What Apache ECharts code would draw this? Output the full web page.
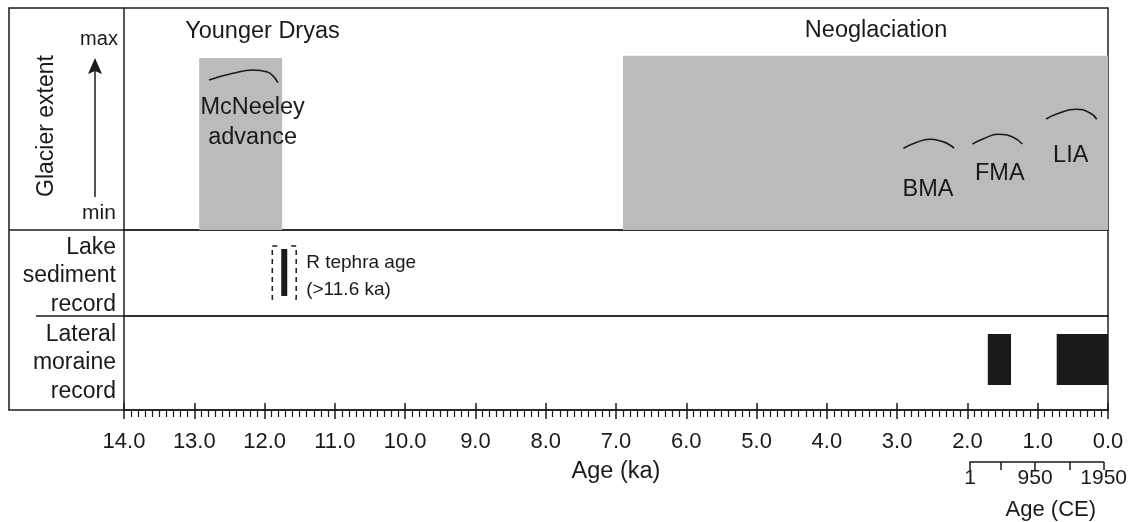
<!DOCTYPE html>
<html><head><meta charset="utf-8">
<script src="https://cdn.jsdelivr.net/npm/echarts@6/dist/echarts.min.js"></script>
<style>html,body{margin:0;padding:0;background:#fff}#c{width:1130px;height:522px}</style>
</head><body><div id="c"></div>
<script>
// ---- data (ka = thousand years before 1950 CE) ----
const periodNames = ['Younger Dryas', 'Neoglaciation'];
const periodStart = [12.93, 6.9];
const periodEnd = [11.75, 0.0];
const periodExtent = [77.5, 78.5];
const periodLabelPos = [[12.03, 89.6], [3.30, 89.8]];

const mcneeleyCurve = [[12.79, 67.6], [12.45, 70.6], [12.16, 72.1], [11.97, 71.3], [11.88, 69.4], [11.81, 66.4]];
const bmaCurve = [[2.91, 36.8], [2.72, 39.5], [2.54, 40.9], [2.35, 39.8], [2.25, 38.3], [2.19, 36.8]];
const fmaCurve = [[1.93, 38.7], [1.78, 41.0], [1.56, 43.1], [1.35, 41.8], [1.22, 38.7]];
const liaCurve = [[0.88, 50.0], [0.73, 52.3], [0.45, 54.4], [0.26, 52.8], [0.16, 49.9]];
const advanceNames = ['McNeeley\nadvance', 'BMA', 'FMA', 'LIA'];
const advanceLabelPos = [[12.17, 48.6], [2.56, 18.3], [1.54, 25.5], [0.53, 33.5]];

const tephraAge = 11.72;
const tephraBounds = [11.89, 11.55];
const tephraLabel = ['R tephra age', '(>11.6 ka)'];

const moraineStart = [1.71, 0.73];
const moraineEnd = [1.38, 0.0];

const kaMin = 0, kaMax = 14, kaStep = 1;
const ceTicks = [1, 450, 950, 1450, 1950];
const ceLabels = [1, 950, 1950];

const rowLabels = {
  lake: ['Lake', 'sediment', 'record'],
  moraine: ['Lateral', 'moraine', 'record']
};

// ---- chart ----
const INK = '#1a1a1a';
const FONT = '"Liberation Sans", Arial, sans-serif';
const BIG = 23.5;
const chart = echarts.init(document.getElementById('c'));

const gridBase = { left: 124, right: 22, show: true, borderColor: '#222', borderWidth: 1.5, backgroundColor: 'transparent' };
const hiddenKa = (gi) => ({ type: 'value', gridIndex: gi, min: kaMin, max: kaMax, inverse: true, show: false });

function rectRender(yTop, yBot) {
  return function (params, api) {
    const a = api.coord([api.value(0), yTop != null ? yTop : api.value(2)]);
    const b = api.coord([api.value(1), yBot]);
    return {
      type: 'rect',
      shape: { x: Math.min(a[0], b[0]), y: a[1], width: Math.abs(b[0] - a[0]), height: b[1] - a[1] },
      style: api.style()
    };
  };
}

const curveSeries = [mcneeleyCurve, bmaCurve, fmaCurve, liaCurve].map(c => ({
  type: 'line', xAxisIndex: 0, yAxisIndex: 0, data: c, smooth: 0.5, showSymbol: false,
  lineStyle: { color: INK, width: 1.6 }, silent: true, z: 5
}));

const option = {
  animation: false,
  textStyle: { fontFamily: FONT, color: INK },
  grid: [
    Object.assign({ top: 8, height: 222 }, gridBase),
    Object.assign({ top: 230, height: 86 }, gridBase),
    Object.assign({ top: 316, height: 94 }, gridBase),
    { left: 970, right: 22, top: 440, height: 23, show: false }
  ],
  xAxis: [
    hiddenKa(0),
    hiddenKa(1),
    {
      type: 'value', gridIndex: 2, min: kaMin, max: kaMax, interval: kaStep, inverse: true,
      axisLine: { lineStyle: { color: INK, width: 1.5 } },
      axisTick: { length: 9, lineStyle: { color: INK, width: 1.5 } },
      minorTick: { show: true, splitNumber: 10, length: 7, lineStyle: { color: INK, width: 1.2 } },
      splitLine: { show: false },
      axisLabel: { margin: 21, fontSize: 22, color: INK, fontFamily: FONT, formatter: v => v.toFixed(1),
                   showMinLabel: true, showMaxLabel: true },
      name: 'Age (ka)', nameLocation: 'middle', nameGap: 50,
      nameTextStyle: { fontSize: BIG, color: INK, fontFamily: FONT }
    },
    {
      type: 'value', gridIndex: 2, min: kaMin, max: kaMax, interval: kaStep, inverse: true, position: 'bottom',
      axisLine: { show: false },
      axisTick: { inside: true, length: 7, lineStyle: { color: INK, width: 1.5 } },
      axisLabel: { show: false }, splitLine: { show: false }
    },
    {
      type: 'value', gridIndex: 3, min: ceTicks[0], max: ceTicks[ceTicks.length - 1],
      axisLine: { lineStyle: { color: INK, width: 1.5 } },
      axisTick: { length: 8, customValues: ceTicks, lineStyle: { color: INK, width: 1.5 } },
      axisLabel: { customValues: ceLabels, margin: 6, fontSize: 21, color: INK, fontFamily: FONT,
                   formatter: v => String(v), showMinLabel: true, showMaxLabel: true },
      splitLine: { show: false },
      name: 'Age (CE)', nameLocation: 'middle', nameGap: 37,
      nameTextStyle: { fontSize: 22, color: INK, fontFamily: FONT, padding: [0, 0, 0, 28] }
    }
  ],
  yAxis: [
    { type: 'value', gridIndex: 0, min: 0, max: 100, show: false },
    { type: 'value', gridIndex: 1, min: 0, max: 1, show: false },
    { type: 'value', gridIndex: 2, min: 0, max: 1, show: false },
    { type: 'value', gridIndex: 3, min: 0, max: 1, show: false }
  ],
  series: [
    {
      type: 'custom', xAxisIndex: 0, yAxisIndex: 0, silent: true, z: 1,
      data: periodStart.map((s, i) => [s, periodEnd[i], periodExtent[i]]),
      encode: { x: [0, 1], y: 2 },
      itemStyle: { color: '#bbbbbb' },
      renderItem: rectRender(null, 0)
    },
    ...curveSeries,
    {
      type: 'scatter', xAxisIndex: 0, yAxisIndex: 0, symbolSize: 0, silent: true, z: 6,
      itemStyle: { opacity: 1, color: INK },
      data: periodLabelPos.map((p, i) => ({ value: p, name: periodNames[i] }))
        .concat(advanceLabelPos.map((p, i) => ({ value: p, name: advanceNames[i] }))),
      label: { show: true, position: 'inside', formatter: p => p.name, fontSize: BIG, lineHeight: 30,
               color: INK, opacity: 1, fontFamily: FONT, align: 'center', verticalAlign: 'middle' }
    },
    {
      type: 'custom', xAxisIndex: 1, yAxisIndex: 1, silent: true, z: 5,
      data: [[tephraAge, tephraBounds[0], tephraBounds[1]]],
      encode: { x: [0, 1, 2] },
      renderItem: function (params, api) {
        const x = api.coord([api.value(0), 0])[0];
        const xl = api.coord([api.value(1), 0])[0];
        const xr = api.coord([api.value(2), 0])[0];
        const bt = api.coord([0, 0.779])[1], bb = api.coord([0, 0.233])[1];
        const kt = api.coord([0, 0.814])[1], kb = api.coord([0, 0.198])[1];
        const dash = { stroke: INK, lineWidth: 1.5, fill: null, lineDash: [5, 4] };
        return {
          type: 'group', children: [
            { type: 'rect', shape: { x: x - 3, y: bt, width: 6, height: bb - bt }, style: { fill: INK } },
            { type: 'polyline', shape: { points: [[xl + 5, kt], [xl, kt], [xl, kb], [xl + 5, kb]] }, style: dash },
            { type: 'polyline', shape: { points: [[xr - 5, kt], [xr, kt], [xr, kb], [xr - 5, kb]] }, style: dash }
          ]
        };
      }
    },
    {
      type: 'scatter', xAxisIndex: 1, yAxisIndex: 1, symbolSize: 0, silent: true,
      itemStyle: { opacity: 1, color: INK },
      data: [[tephraBounds[1], 0.459]],
      label: { show: true, position: 'right', distance: 10, formatter: tephraLabel.join('\n'),
               fontSize: 19, lineHeight: 27, color: INK, opacity: 1, fontFamily: FONT, align: 'left' }
    },
    {
      type: 'custom', xAxisIndex: 2, yAxisIndex: 2, silent: true, z: 5,
      data: moraineStart.map((s, i) => [s, moraineEnd[i]]),
      encode: { x: [0, 1] },
      itemStyle: { color: INK },
      renderItem: rectRender(0.809, 0.266)
    }
  ],
  graphic: [
    { type: 'polyline', shape: { points: [[124, 8], [9, 8], [9, 410], [124, 410]] }, style: { stroke: INK, lineWidth: 1.5, fill: null } },
    { type: 'line', shape: { x1: 9, y1: 230, x2: 124, y2: 230 }, style: { stroke: INK, lineWidth: 1.5 } },
    { type: 'line', shape: { x1: 36, y1: 316, x2: 124, y2: 316 }, style: { stroke: INK, lineWidth: 1.5 } },
    { type: 'line', shape: { x1: 95, y1: 197, x2: 95, y2: 70 }, style: { stroke: INK, lineWidth: 1.5 } },
    { type: 'polygon', shape: { points: [[95, 58], [88, 74], [95, 71], [102, 74]] }, style: { fill: INK } },
    { type: 'text', x: 47, y: 126, rotation: Math.PI / 2,
      style: { text: 'Glacier extent', fontSize: 23, fontFamily: FONT, fill: INK, align: 'center', verticalAlign: 'middle' } },
    { type: 'text', x: 99, y: 39, style: { text: 'max', fontSize: 20, fontFamily: FONT, fill: INK, align: 'center', verticalAlign: 'middle' } },
    { type: 'text', x: 99, y: 213, style: { text: 'min', fontSize: 21, fontFamily: FONT, fill: INK, align: 'center', verticalAlign: 'middle' } },
    { type: 'text', x: 116, y: 276, style: { text: rowLabels.lake.join('\n'), fontSize: 23, lineHeight: 28.5, fontFamily: FONT, fill: INK, align: 'right', verticalAlign: 'middle' } },
    { type: 'text', x: 116, y: 363, style: { text: rowLabels.moraine.join('\n'), fontSize: 23, lineHeight: 28.5, fontFamily: FONT, fill: INK, align: 'right', verticalAlign: 'middle' } }
  ]
};
chart.setOption(option);
</script>
</body></html>
